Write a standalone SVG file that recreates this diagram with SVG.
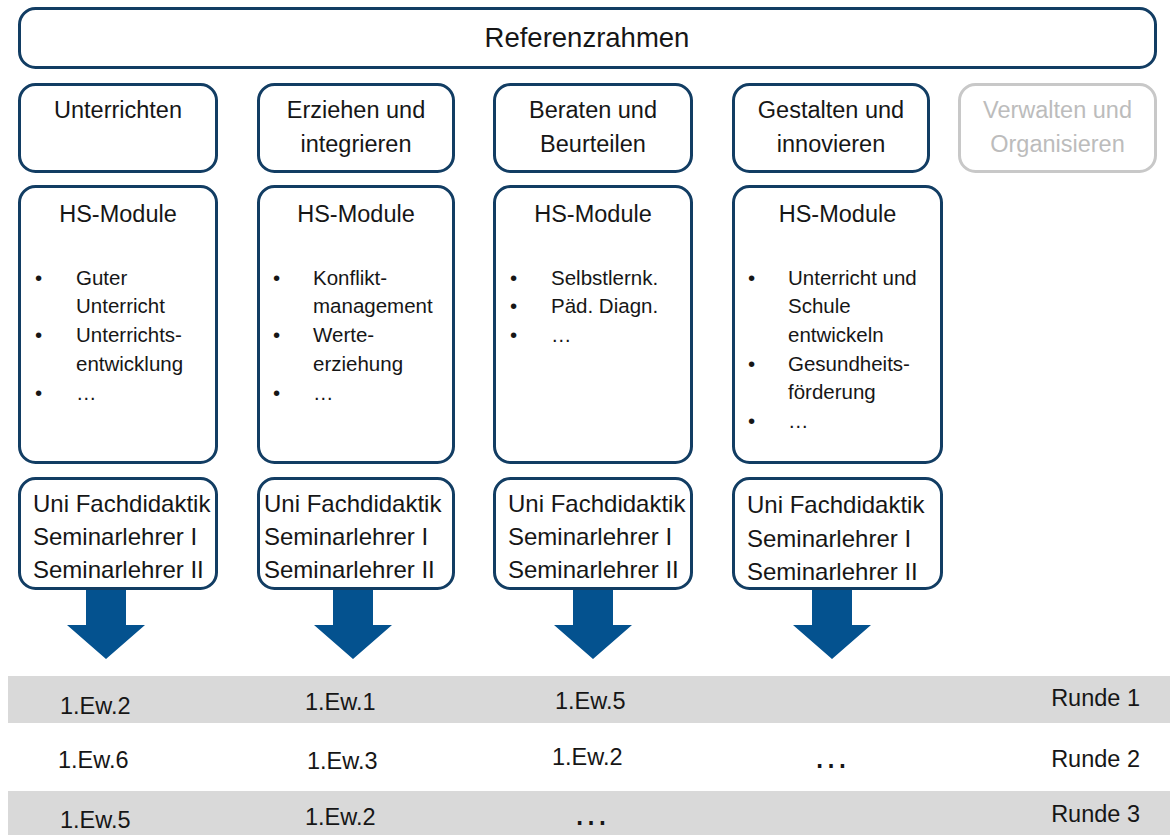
<svg xmlns="http://www.w3.org/2000/svg" width="1170" height="835" viewBox="0 0 1170 835">
  <style>
    .box { fill: #ffffff; stroke: #123d63; stroke-width: 3; }
    .box-muted { fill: #ffffff; stroke: #c8c8c8; stroke-width: 3; }
    text { font-family: "Liberation Sans", Arial, sans-serif; fill: #161616; }
    .title { font-size: 27.5px; text-anchor: middle; }
    .head { font-size: 23.5px; text-anchor: middle; }
    .muted { fill: #bcbcbc; }
    .item { font-size: 20.5px; }
    .uni { font-size: 24px; }
    .cell { font-size: 23.5px; }
    .dots { font-size: 36px; }
    .band { fill: #d9d9d9; }
    .arrow { fill: #04528f; }
  </style>

  <!-- round bands -->
  <g id="rounds">
    <rect class="band" x="8" y="676" width="1162" height="47"/>
    <rect class="band" x="8" y="791" width="1162" height="44"/>
    <text class="cell" x="60" y="714">1.Ew.2</text>
    <text class="cell" x="305" y="710">1.Ew.1</text>
    <text class="cell" x="555" y="709">1.Ew.5</text>
    <text class="cell" x="1140" y="706" text-anchor="end">Runde 1</text>
    <text class="cell" x="58" y="768">1.Ew.6</text>
    <text class="cell" x="307" y="769">1.Ew.3</text>
    <text class="cell" x="552" y="765">1.Ew.2</text>
    <text class="dots" x="813" y="768">…</text>
    <text class="cell" x="1140" y="767" text-anchor="end">Runde 2</text>
    <text class="cell" x="60" y="828">1.Ew.5</text>
    <text class="cell" x="305" y="825">1.Ew.2</text>
    <text class="dots" x="573" y="825">…</text>
    <text class="cell" x="1140" y="822" text-anchor="end">Runde 3</text>
  </g>

  <!-- frame of reference -->
  <g id="referenzrahmen">
    <rect class="box" x="19.5" y="8.5" width="1136" height="59" rx="16"/>
    <text class="title" x="587" y="46.5">Referenzrahmen</text>
  </g>

  <!-- competence areas -->
  <g id="unterrichten">
    <rect class="box" x="19.5" y="84.5" width="197" height="87" rx="16"/>
    <text class="head" x="118" y="118">Unterrichten</text>
  </g>
  <g id="erziehen">
    <rect class="box" x="258.5" y="84.5" width="195" height="87" rx="16"/>
    <text class="head" x="356" y="118">Erziehen und</text>
    <text class="head" x="356" y="152">integrieren</text>
  </g>
  <g id="beraten">
    <rect class="box" x="494.5" y="84.5" width="197" height="87" rx="16"/>
    <text class="head" x="593" y="118">Beraten und</text>
    <text class="head" x="593" y="152">Beurteilen</text>
  </g>
  <g id="gestalten">
    <rect class="box" x="733.5" y="84.5" width="195" height="87" rx="16"/>
    <text class="head" x="831" y="118">Gestalten und</text>
    <text class="head" x="831" y="152">innovieren</text>
  </g>
  <g id="verwalten">
    <rect class="box-muted" x="959.5" y="84.5" width="196" height="87" rx="16"/>
    <text class="head muted" x="1057.5" y="118">Verwalten und</text>
    <text class="head muted" x="1057.5" y="152">Organisieren</text>
  </g>

  <!-- HS modules -->
  <g id="hs-unterrichten">
    <rect class="box" x="19.5" y="186.5" width="197" height="276" rx="16"/>
    <text class="head" x="118" y="222">HS-Module</text>
    <text class="item" x="35" y="285">•</text>
    <text class="item" x="76" y="285">Guter</text>
    <text class="item" x="76" y="313">Unterricht</text>
    <text class="item" x="35" y="342">•</text>
    <text class="item" x="76" y="342">Unterrichts-</text>
    <text class="item" x="76" y="371">entwicklung</text>
    <text class="item" x="35" y="400">•</text>
    <text class="item" x="76" y="400">…</text>
  </g>
  <g id="hs-erziehen">
    <rect class="box" x="258.5" y="186.5" width="195" height="276" rx="16"/>
    <text class="head" x="356" y="222">HS-Module</text>
    <text class="item" x="273" y="285">•</text>
    <text class="item" x="313" y="285">Konflikt-</text>
    <text class="item" x="313" y="313">management</text>
    <text class="item" x="273" y="342">•</text>
    <text class="item" x="313" y="342">Werte-</text>
    <text class="item" x="313" y="371">erziehung</text>
    <text class="item" x="273" y="400">•</text>
    <text class="item" x="313" y="400">…</text>
  </g>
  <g id="hs-beraten">
    <rect class="box" x="494.5" y="186.5" width="197" height="276" rx="16"/>
    <text class="head" x="593" y="222">HS-Module</text>
    <text class="item" x="510" y="285">•</text>
    <text class="item" x="551" y="285">Selbstlernk.</text>
    <text class="item" x="510" y="313">•</text>
    <text class="item" x="551" y="313">Päd. Diagn.</text>
    <text class="item" x="510" y="342">•</text>
    <text class="item" x="551" y="342">…</text>
  </g>
  <g id="hs-gestalten">
    <rect class="box" x="733.5" y="186.5" width="208" height="276" rx="16"/>
    <text class="head" x="837.5" y="222">HS-Module</text>
    <text class="item" x="748" y="285">•</text>
    <text class="item" x="788" y="285">Unterricht und</text>
    <text class="item" x="788" y="313">Schule</text>
    <text class="item" x="788" y="342">entwickeln</text>
    <text class="item" x="748" y="371">•</text>
    <text class="item" x="788" y="371">Gesundheits-</text>
    <text class="item" x="788" y="399">förderung</text>
    <text class="item" x="748" y="428">•</text>
    <text class="item" x="788" y="428">…</text>
  </g>

  <!-- actors -->
  <g id="uni-unterrichten">
    <rect class="box" x="19.5" y="478.5" width="197" height="110" rx="16"/>
    <text class="uni" x="33" y="512">Uni Fachdidaktik</text>
    <text class="uni" x="33" y="545">Seminarlehrer I</text>
    <text class="uni" x="33" y="578">Seminarlehrer II</text>
  </g>
  <g id="uni-erziehen">
    <rect class="box" x="258.5" y="478.5" width="195" height="110" rx="16"/>
    <text class="uni" x="264" y="512">Uni Fachdidaktik</text>
    <text class="uni" x="264" y="545">Seminarlehrer I</text>
    <text class="uni" x="264" y="578">Seminarlehrer II</text>
  </g>
  <g id="uni-beraten">
    <rect class="box" x="494.5" y="478.5" width="197" height="110" rx="16"/>
    <text class="uni" x="508" y="512">Uni Fachdidaktik</text>
    <text class="uni" x="508" y="545">Seminarlehrer I</text>
    <text class="uni" x="508" y="578">Seminarlehrer II</text>
  </g>
  <g id="uni-gestalten">
    <rect class="box" x="733.5" y="478.5" width="208" height="110" rx="16"/>
    <text class="uni" x="747" y="513">Uni Fachdidaktik</text>
    <text class="uni" x="747" y="547">Seminarlehrer I</text>
    <text class="uni" x="747" y="580">Seminarlehrer II</text>
  </g>

  <!-- block arrows down to the rounds -->
  <g id="connectors">
    <path class="arrow" d="M86,590 H126 V625 H145 L106,659 L67,625 H86 Z"/>
    <path class="arrow" d="M333,590 H373 V625 H392 L353,659 L314,625 H333 Z"/>
    <path class="arrow" d="M573,590 H613 V625 H632 L593,659 L554,625 H573 Z"/>
    <path class="arrow" d="M812,590 H852 V625 H871 L832,659 L793,625 H812 Z"/>
  </g>
</svg>
